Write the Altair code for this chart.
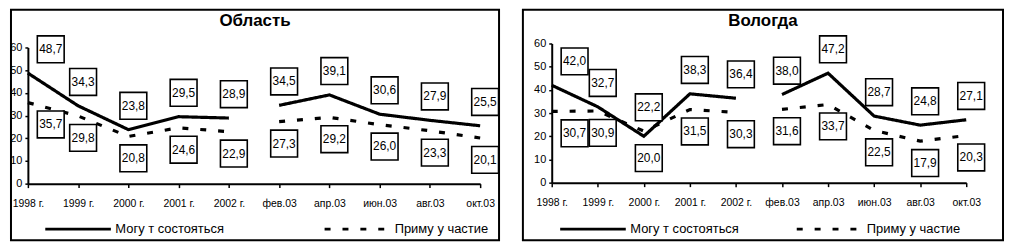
import altair as alt
import pandas as pd

categories = ["1998 г.", "1999 г.", "2000 г.", "2001 г.", "2002 г.",
              "фев.03", "апр.03", "июн.03", "авг.03", "окт.03"]
series_names = ["Могу т состояться", "Приму у частие"]
y_ticks = [0, 10, 20, 30, 40, 50, 60]

oblast_may = [48.7, 34.3, 23.8, 29.5, 28.9, 34.5, 39.1, 30.6, 27.9, 25.5]
oblast_take = [35.7, 29.8, 20.8, 24.6, 22.9, 27.3, 29.2, 26.0, 23.3, 20.1]
vologda_may = [42.0, 32.7, 20.0, 38.3, 36.4, 38.0, 47.2, 28.7, 24.8, 27.1]
vologda_take = [30.7, 30.9, 22.2, 31.5, 30.3, 31.6, 33.7, 22.5, 17.9, 20.3]

FONT = "Liberation Sans"

SYM = 16
LEG_PATH = "M-1,0H7.25"


def fmt(v):
    return f"{v:.1f}".replace(".", ",")


def panel(title, may, take, W, H, x0, x1, y0, y60, leg_x, leg_y, leg_pad):
    rows = []
    for i, c in enumerate(categories):
        seg = "годы" if i < 5 else "месяцы"
        rows.append(dict(cat=c, series=series_names[0], value=may[i], seg=seg))
        rows.append(dict(cat=c, series=series_names[1], value=take[i], seg=seg))
    df = pd.DataFrame(rows)
    lab = pd.DataFrame({
        "cat": categories,
        "hi": [max(a, b) for a, b in zip(may, take)],
        "lo": [min(a, b) for a, b in zip(may, take)],
    })
    lab["hi_t"] = [fmt(v) for v in lab["hi"]]
    lab["lo_t"] = [fmt(v) for v in lab["lo"]]

    xscale = alt.Scale(type="point", domain=categories, range=[x0, x1], padding=0)
    xaxis = alt.Axis(title=None, labelAngle=0, offset=y0 - H, labelFont=FONT,
                     labelFontSize=10.5, labelColor="black", tickSize=4,
                     labelPadding=11, domainWidth=2, domainColor="black",
                     tickColor="black", tickWidth=1.5, grid=False)
    yscale = alt.Scale(domain=[0, 60], range=[y0, y60], nice=False, zero=True)
    yaxis = alt.Axis(title=None, values=y_ticks, offset=-x0, labelFont=FONT,
                     labelFontSize=11, labelColor="black", tickSize=3,
                     labelPadding=3, domainWidth=2, domainColor="black",
                     tickColor="black", tickWidth=1.5, grid=False)

    def X():
        return alt.X("cat:N", scale=xscale, axis=xaxis, sort=categories)

    def Y(field):
        return alt.Y(f"{field}:Q", scale=yscale, axis=yaxis)

    lines = alt.Chart(df).mark_line(strokeWidth=3.2, color="black").encode(
        x=X(),
        y=Y("value"),
        strokeDash=alt.StrokeDash(
            "series:N",
            scale=alt.Scale(domain=series_names, range=[[1, 0], [6, 12]]),
            legend=alt.Legend(
                title=None, orient="none", legendX=leg_x, legendY=leg_y,
                direction="horizontal", symbolType=LEG_PATH, symbolSize=SYM * SYM,
                symbolStrokeWidth=3, symbolStrokeColor="black",
                labelFont=FONT, labelFontSize=13, labelColor="black",
                labelOffset=66 - SYM + 3, columnPadding=leg_pad, padding=0,
            ),
        ),
        detail="seg:N",
    )

    layers = [lines]
    for field, tfield, dy in (("hi", "hi_t", -24), ("lo", "lo_t", 22)):
        for first, xo in ((True, 23), (False, 5)):
            flt = (alt.datum.cat == categories[0]) if first else (alt.datum.cat != categories[0])
            base = alt.Chart(lab).transform_filter(flt)
            sq = base.mark_square(size=729, fill="white", fillOpacity=1, stroke="black",
                                  strokeWidth=1.6, opacity=1, xOffset=xo, yOffset=dy).encode(
                x=X(), y=Y(field))
            tx = base.mark_text(font=FONT, fontSize=12, color="black", dx=xo, dy=dy).encode(
                x=X(), y=Y(field), text=f"{tfield}:N")
            layers += [sq, tx]

    return alt.layer(*layers).properties(
        width=W, height=H,
        title=alt.Title(title, font=FONT, fontSize=17, fontWeight="bold", color="black",
                        anchor="middle", offset=-20),
    )


left = panel("Область", oblast_may, oblast_take, W=491, H=232,
             x0=17, x1=472, y0=175, y60=38, leg_x=33, leg_y=211, leg_pad=94)
right = panel("Вологда", vologda_may, vologda_take, W=483, H=232,
              x0=29, x1=446, y0=174, y60=34, leg_x=36, leg_y=211, leg_pad=51)

chart = alt.hconcat(left, right, spacing=19).resolve_scale(
    strokeDash="independent"
).resolve_legend(
    strokeDash="independent"
).properties(padding=0).configure_view(
    stroke="black", strokeWidth=2
)

chart.save("out.html", embed_options={"renderer": "svg", "actions": False})
